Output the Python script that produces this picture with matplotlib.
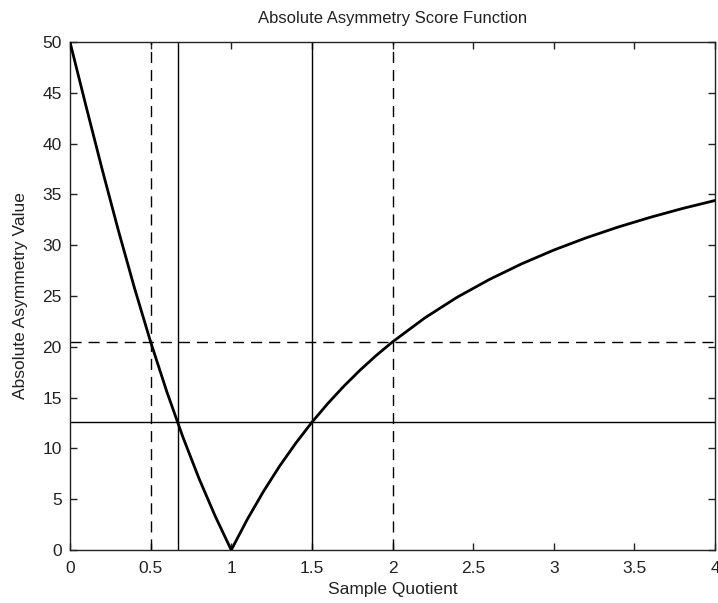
import matplotlib
matplotlib.use("Agg")
import matplotlib.pyplot as plt

# Absolute asymmetry score vs. sample quotient
quotient = [0.0, 0.1, 0.2, 0.3, 0.4, 0.5, 0.6, 0.7, 0.8, 0.9, 1.0,
            1.1, 1.2, 1.3, 1.4, 1.5, 1.6, 1.7, 1.8, 1.9, 2.0,
            2.2, 2.4, 2.6, 2.8, 3.0, 3.2, 3.4, 3.6, 3.8, 4.0]
score = [50.00, 43.65, 37.43, 31.45, 25.78, 20.48, 15.60, 11.12, 7.04, 3.35, 0.00,
         3.03, 5.77, 8.26, 10.51, 12.57, 14.44, 16.15, 17.72, 19.16, 20.48,
         22.84, 24.87, 26.62, 28.16, 29.52, 30.72, 31.79, 32.75, 33.62, 34.40]

# reference thresholds
dashed_x = [0.5, 2.0]
solid_x = [2.0 / 3.0, 1.5]
dashed_y = 20.48
solid_y = 12.57

xticks = [0, 0.5, 1, 1.5, 2, 2.5, 3, 3.5, 4]
yticks = [0, 5, 10, 15, 20, 25, 30, 35, 40, 45, 50]

plt.rcParams['font.family'] = ['Liberation Sans', 'DejaVu Sans']
fig = plt.figure(figsize=(7.18, 6.03), dpi=100)
ax = fig.add_axes([70 / 718, 53 / 603, 645 / 718, 508 / 603])

ax.plot(quotient, score, color='black', linewidth=2.0, zorder=3)
for xv in dashed_x:
    ax.axvline(xv, color='black', linewidth=1.0, linestyle=(0, (8, 5)))
for xv in solid_x:
    ax.axvline(xv, color='black', linewidth=1.0)
ax.axhline(dashed_y, color='black', linewidth=1.0, linestyle=(0, (8, 5)))
ax.axhline(solid_y, color='black', linewidth=1.0)

ax.set_xlim(0, 4)
ax.set_ylim(0, 50)
ax.set_xticks(xticks)
ax.set_xticklabels(['0', '0.5', '1', '1.5', '2', '2.5', '3', '3.5', '4'])
ax.set_yticks(yticks)
ax.set_yticklabels([str(v) for v in yticks])
ax.tick_params(direction='in', length=5, width=1, top=True, right=True,
               labelsize=12.5, colors='#222222')
ax.tick_params(axis='x', pad=8)
ax.tick_params(axis='y', pad=6)
for s in ax.spines.values():
    s.set_linewidth(1.0)
    s.set_color('#222222')

ax.set_title('Absolute Asymmetry Score Function', fontsize=12, pad=14, color='#222222')
ax.set_xlabel('Sample Quotient', fontsize=12.5, labelpad=4, color='#222222')
ax.set_ylabel('Absolute Asymmetry Value', fontsize=12.5, labelpad=10, color='#222222')

fig.savefig('out.png', dpi=100)
